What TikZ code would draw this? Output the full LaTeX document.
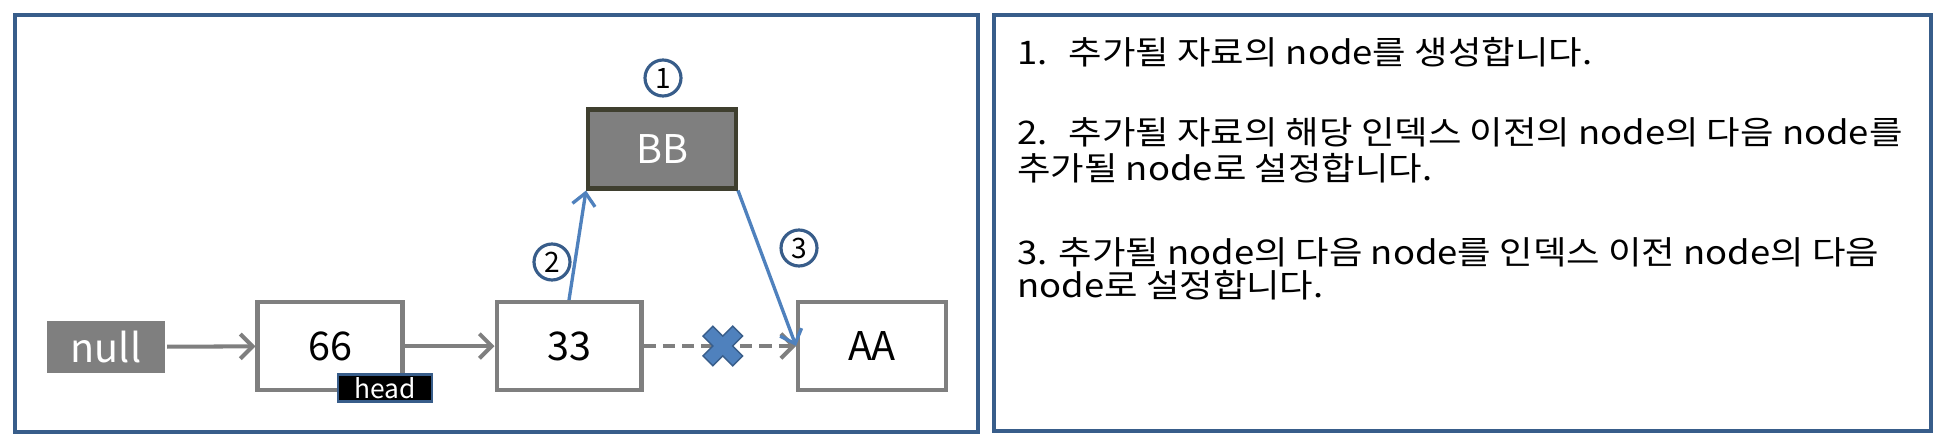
\documentclass[tikz,border=0pt]{standalone}
\usepackage{fontspec}
\setmainfont{Noto Sans CJK KR}
\newfontfamily\stepfont[FakeStretch=1.12]{Noto Sans CJK KR}
\usepackage{tikz}
\usetikzlibrary{positioning}
\usetikzlibrary{arrows.meta}
\definecolor{frameblue}{HTML}{385D8A}
\definecolor{arrowblue}{HTML}{4F81BD}
\definecolor{boxgray}{HTML}{7F7F7F}
\definecolor{bbborder}{HTML}{3F3F2F}
\tikzstyle{arrow} = [line width=2.3pt,draw=boxgray,-{Straight Barb[length=7pt,width=14pt]}]
\tikzstyle{bluearrow} = [line width=1.9pt,draw=arrowblue,-{Straight Barb[length=7pt,width=13pt]}]
\tikzstyle{databox} = [draw=boxgray,line width=2.3pt,fill=white,minimum width=2.9cm,minimum height=1.76cm,inner sep=0pt,font=\fontsize{22.5}{26}\selectfont]
\tikzstyle{stepnum} = [circle,draw=frameblue,line width=1.8pt,fill=white,minimum size=0.72cm,inner sep=0pt,font=\fontsize{16}{18}\selectfont]
\tikzstyle{frame} = [draw=frameblue,line width=2pt]
\tikzstyle{steptext} = [anchor=west,inner sep=0pt,font=\stepfont\fontsize{18.5}{22}\selectfont]

\begin{document}
\begin{tikzpicture}[x=0.02cm,y=-0.02cm]
  \useasboundingbox (0,0) rectangle (1946,442);

  % the two panels
  \draw[frame] (15,15) rectangle (978,432);
  \draw[frame] (994,15) rectangle (1931,431);

  % list nodes
  \node[databox,fill=boxgray,draw=none,text=white,minimum width=2.36cm,minimum height=1.06cm] (null) at (106,347) {null};
  \node[databox] (n66) at (330,346) {66};
  \node[databox] (n33) at (569,346) {33};
  \node[databox,minimum width=2.96cm] (nAA) at (872,346) {AA};
  \node[databox,fill=boxgray,draw=bbborder,text=white,minimum width=2.96cm,minimum height=1.58cm] (nBB) at (662,149) {BB};
  \node[draw=frameblue,line width=1.3pt,fill=black,text=white,minimum width=1.88cm,minimum height=0.54cm,inner sep=0pt,font=\fontsize{15}{16}\selectfont] (head) at (385,388) {head};

  % old links
  \draw[arrow] (null) -- (n66);
  \draw[arrow] (n66) -- (n33);
  \draw[arrow,dash pattern=on 7pt off 4pt] (n33) -- coordinate[pos=0.52] (cut) (nAA);

  % cut mark
  \begin{scope}[shift={(cut)},rotate=45]
    \filldraw[fill=arrowblue,draw=frameblue,line width=0.8pt]
      (7,21) -- (7,7) -- (21,7) -- (21,-7) -- (7,-7) -- (7,-21) -- (-7,-21)
      -- (-7,-7) -- (-21,-7) -- (-21,7) -- (-7,7) -- (-7,21) -- cycle;
  \end{scope}

  % new links
  \draw[bluearrow] (n33.north) -- (nBB.south west);
  \draw[bluearrow] (nBB.south east) -- (nAA.west);

  % step numbers
  \node[stepnum] (s1) at (663,78) {1};
  \node[stepnum] (s2) at (552,262) {2};
  \node[stepnum] (s3) at (799,248) {3};

  % explanation
  \node[steptext] (t1) at (1017,52) {1.\hspace{0.42cm}추가될 자료의 node를 생성합니다.};
  \node[steptext] (t2a) at (1017,132) {2.\hspace{0.42cm}추가될 자료의 해당 인덱스 이전의 node의 다음 node를};
  \node[steptext] (t2b) at (1017,168) {추가될 node로 설정합니다.};
  \node[steptext] (t3a) at (1017,252) {3. 추가될 node의 다음 node를 인덱스 이전 node의 다음};
  \node[steptext] (t3b) at (1017,285) {node로 설정합니다.};
\end{tikzpicture}
\end{document}
